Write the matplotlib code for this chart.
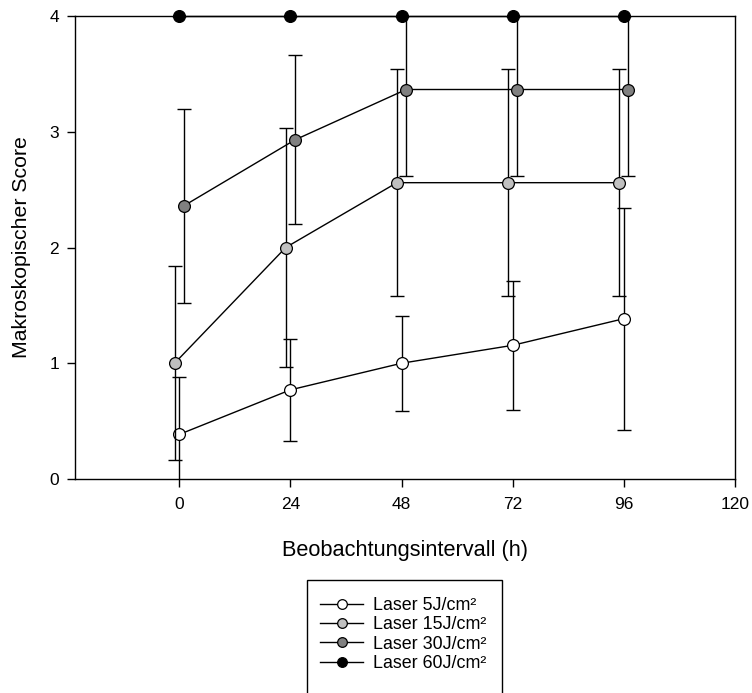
import matplotlib
matplotlib.use("Agg")
import matplotlib.pyplot as plt
from matplotlib.patches import Rectangle

plt.rcParams['font.family'] = ['Liberation Sans', 'DejaVu Sans']

# Beobachtungszeitpunkte (h)
zeit = [0, 24, 48, 72, 96]

# Mittelwerte und Standardabweichungen des makroskopischen Scores
laser_5 = [0.385, 0.77, 1.0, 1.155, 1.385]
sd_5 = [0.50, 0.44, 0.41, 0.555, 0.96]
laser_15 = [1.0, 2.0, 2.56, 2.56, 2.56]
sd_15 = [0.84, 1.03, 0.98, 0.98, 0.98]
laser_30 = [2.36, 2.93, 3.365, 3.365, 3.365]
sd_30 = [0.84, 0.73, 0.75, 0.75, 0.75]
laser_60 = [4.0, 4.0, 4.0, 4.0, 4.0]
sd_60 = [0.0, 0.0, 0.0, 0.0, 0.0]

labels = ['Laser 5J/cm²', 'Laser 15J/cm²', 'Laser 30J/cm²', 'Laser 60J/cm²']
farben = ['white', '#c0c0c0', '#808080', 'black']
versatz = [0, -1, 1, 0]   # kleine Verschiebung in x, damit sich die Fehlerbalken nicht decken

fig = plt.figure(figsize=(7.52, 6.93), dpi=100)
ax = fig.add_axes([75 / 752, 1 - 479 / 693, 660 / 752, 463 / 693])

handles = []
for werte, sd, farbe, dx, lab in zip([laser_5, laser_15, laser_30, laser_60],
                                     [sd_5, sd_15, sd_30, sd_60],
                                     farben, versatz, labels):
    x = [t + dx for t in zeit]
    ax.errorbar(x, werte, yerr=sd, fmt='none', ecolor='black', elinewidth=1.0,
                capsize=5, capthick=1.0)
    h, = ax.plot(x, werte, '-o', color='black', lw=1.0, mfc=farbe, mec='black',
                 mew=0.9, ms=8.5, clip_on=False, label=lab)
    handles.append(h)

ax.set_xlim(-22.5, 120)
ax.set_ylim(0, 4)
ax.set_xticks([0, 24, 48, 72, 96, 120])
ax.set_yticks([0, 1, 2, 3, 4])
ax.tick_params(direction='out', length=5.5, width=1.0, labelsize=12.5,
               top=False, right=False)
ax.tick_params(axis='x', pad=7.5)
ax.tick_params(axis='y', pad=6)
for s in ax.spines.values():
    s.set_linewidth(1.0)

ax.set_xlabel('Beobachtungsintervall (h)', fontsize=15.7, labelpad=20)
ax.set_ylabel('Makroskopischer Score', fontsize=15.3, labelpad=13)

fig.legend(handles=handles, loc='upper left', bbox_to_anchor=(320 / 752, 1 - 597 / 693),
           frameon=False, fontsize=12.9, labelspacing=0.13, handlelength=2.4,
           handletextpad=0.55, borderpad=0, borderaxespad=0, markerscale=0.82)
fig.patches.append(Rectangle((307 / 752, -0.05), 195 / 752, 0.05 + 1 - 580 / 693,
                             transform=fig.transFigure, fill=False, lw=1.0,
                             edgecolor='black', clip_on=False))

fig.savefig('out.png', dpi=100)
